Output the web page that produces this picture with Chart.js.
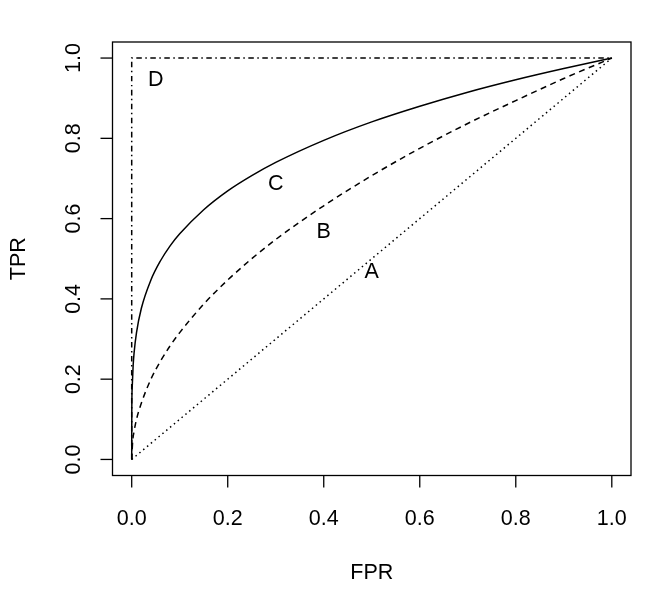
<!DOCTYPE html>
<html>
<head>
<meta charset="utf-8">
<script src="https://cdn.jsdelivr.net/npm/chart.js@4/dist/chart.umd.min.js"></script>
<style>
  html, body { margin: 0; padding: 0; background: #fff; }
  #wrap { width: 666px; height: 593px; }
</style>
</head>
<body>
<div id="wrap"><canvas id="roc" width="666" height="593"></canvas></div>
<script>
// ROC curves, values
const fprA = [0, 1];
const tprA = [0, 1];

const fprB = [0, 0.002, 0.005, 0.01, 0.02, 0.04, 0.06, 0.08, 0.1, 0.15, 0.2, 0.25, 0.3, 0.4, 0.5, 0.6, 0.7, 0.8, 0.9, 1];
const tprB = [0, 0.045, 0.07, 0.1, 0.14, 0.2, 0.245, 0.283, 0.316, 0.387, 0.447, 0.5, 0.548, 0.632, 0.707, 0.775, 0.837, 0.894, 0.949, 1];

const fprC = [0, 0.0002, 0.001, 0.003, 0.005, 0.01, 0.02, 0.04, 0.06, 0.08, 0.1, 0.15, 0.2, 0.25, 0.3, 0.4, 0.5, 0.6, 0.7, 0.8, 0.9, 1];
const tprC = [0, 0.12, 0.178, 0.234, 0.266, 0.316, 0.376, 0.447, 0.495, 0.532, 0.562, 0.622, 0.669, 0.707, 0.74, 0.795, 0.841, 0.88, 0.915, 0.946, 0.974, 1];

const fprD = [0, 0, 1];
const tprD = [0, 1, 1];

const tickVals = [0, 0.2, 0.4, 0.6, 0.8, 1];
const tickLabels = ["0.0", "0.2", "0.4", "0.6", "0.8", "1.0"];

const curveNames = ["A", "B", "C", "D"];
const nameX = [0.5, 0.4, 0.3, 0.05];
const nameY = [0.47, 0.57, 0.69, 0.95];

const FONT = '21.5px "Liberation Sans", Arial, sans-serif';
const CAP = 7.7;

function pts(xs, ys){ return xs.map((x,i)=>({x:x, y:ys[i]})); }

function line(data, dash){
  return { data: data, showLine: true, pointRadius: 0, borderColor: "#000", borderWidth: 1.5,
    borderDash: dash, fill: false, cubicInterpolationMode: "monotone" };
}

const axesPlugin = {
  id: "rAxes",
  afterDraw(chart){
    const ctx = chart.ctx, ca = chart.chartArea;
    const sx = chart.scales.x, sy = chart.scales.y;
    ctx.save();
    ctx.strokeStyle = "#000"; ctx.fillStyle = "#000"; ctx.lineWidth = 1.3;
    ctx.setLineDash([]);
    ctx.strokeRect(ca.left, ca.top, ca.right-ca.left, ca.bottom-ca.top);
    ctx.font = FONT; ctx.textAlign = "center"; ctx.textBaseline = "alphabetic";
    tickVals.forEach((v,i)=>{
      const px = sx.getPixelForValue(v);
      ctx.beginPath(); ctx.moveTo(px, ca.bottom); ctx.lineTo(px, ca.bottom+12); ctx.stroke();
      ctx.fillText(tickLabels[i], px, ca.bottom + 42 + CAP);
      const py = sy.getPixelForValue(v);
      ctx.beginPath(); ctx.moveTo(ca.left, py); ctx.lineTo(ca.left-12, py); ctx.stroke();
      ctx.save(); ctx.translate(ca.left - 40, py); ctx.rotate(-Math.PI/2);
      ctx.fillText(tickLabels[i], 0, CAP); ctx.restore();
    });
    // axis titles
    ctx.fillText("FPR", (ca.left+ca.right)/2, 571.5 + CAP);
    ctx.save(); ctx.translate(17.5, (ca.top+ca.bottom)/2); ctx.rotate(-Math.PI/2);
    ctx.fillText("TPR", 0, CAP); ctx.restore();
    // curve names
    curveNames.forEach((t,i)=>{
      ctx.fillText(t, sx.getPixelForValue(nameX[i]), sy.getPixelForValue(nameY[i]) + CAP);
    });
    ctx.restore();
  }
};

new Chart(document.getElementById("roc"), {
  type: "scatter",
  data: { datasets: [
    line(pts(fprA, tprA), [1.5, 3.5]),
    line(pts(fprB, tprB), [6, 4.5]),
    line(pts(fprC, tprC), []),
    line(pts(fprD, tprD), [5.5, 3.5, 1.5, 3.5])
  ]},
  options: {
    responsive: false, animation: false,
    layout: { padding: { left: 112.5, right: 35, top: 42, bottom: 117.5 } },
    plugins: { legend: { display: false }, tooltip: { enabled: false } },
    scales: {
      x: { type: "linear", min: -0.04, max: 1.04, display: false },
      y: { type: "linear", min: -0.04, max: 1.04, display: false }
    }
  },
  plugins: [axesPlugin]
});
</script>
</body>
</html>
